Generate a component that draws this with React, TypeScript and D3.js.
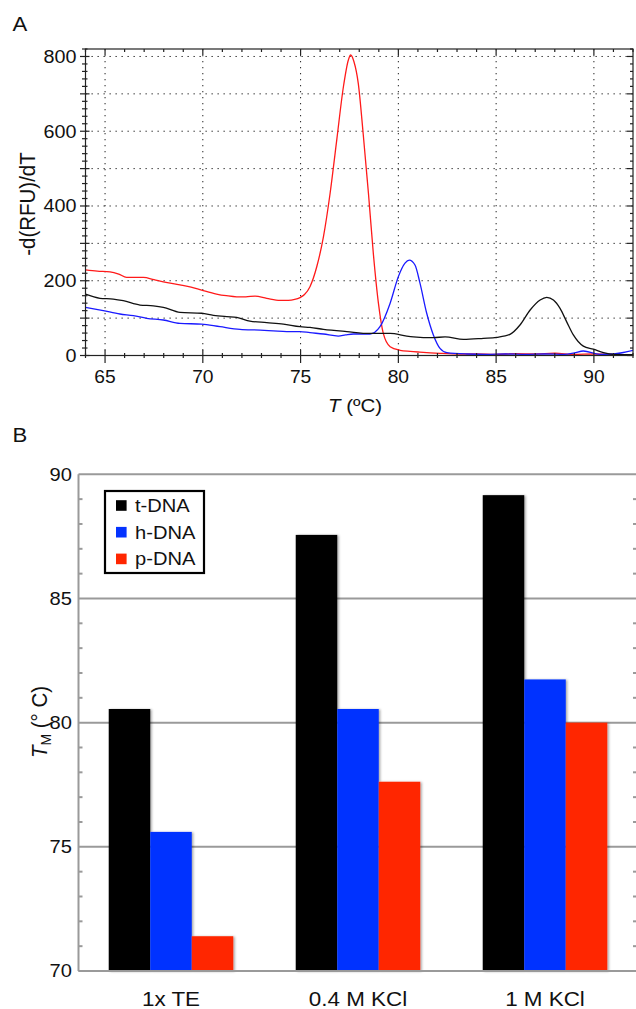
import React from "react";
import * as d3 from "d3";

// ---------- Panel A data ----------
const redT = [64, 64.6, 65.25, 65.7, 66.1, 66.96, 67.5, 67.98, 68.83, 69.4, 69.94, 70.7, 71.2, 71.73, 72.2, 72.67, 73.27, 73.95, 74.37, 74.7, 74.97, 75.2, 75.48, 75.83, 76.17, 76.51, 76.85, 77.19, 77.44, 77.56, 77.73, 77.95, 78.2, 78.47, 78.72, 78.98, 79.23, 79.58, 80.09, 80.6, 81.1, 82.13, 83.16, 84, 85, 86, 87, 88, 89, 90, 91, 92];
const redV = [229, 226, 224, 218, 209, 209, 203, 197, 189, 183, 175, 164.5, 160, 157, 157, 159, 153, 147.6, 147.6, 150, 155, 163, 184, 238, 318, 434, 577, 719, 790, 804, 786, 728, 594, 434, 273, 140, 59, 23.6, 14, 11, 9, 5.8, 4, 4, 3, 5, 4, 6, 3, 4, 3, 2];

const blueT = [64, 64.91, 65.76, 66.45, 67.13, 67.98, 68.83, 69.94, 70.88, 71.9, 72.93, 73.6, 74.29, 74.97, 75.48, 76.17, 76.93, 77.3, 77.7, 78.55, 79.06, 79.58, 80.0, 80.34, 80.56, 80.85, 81.1, 81.45, 81.79, 82.13, 82.48, 83.5, 84.5, 85.5, 86.5, 87.5, 88.5, 89, 89.46, 90.3, 91, 91.5, 92];
const blueV = [129, 120, 111, 106.5, 99.5, 95, 86, 84, 77, 70, 68, 66, 64, 64, 61, 57.5, 52, 55, 57.5, 57.5, 77, 140, 211, 247, 255, 242, 195, 113, 55, 19, 7.6, 4, 3, 4, 3, 4, 3, 7, 12, 3, 4, 8, 14];

const blackT = [64, 64.74, 65.42, 65.93, 66.79, 67.47, 67.98, 68.83, 69.94, 70.54, 71.22, 71.73, 72.41, 73.27, 74.12, 74.97, 75.48, 76.17, 77.36, 78.55, 79.58, 80.43, 80.77, 81.79, 82.39, 83.33, 84.35, 85.03, 85.71, 86.22, 86.74, 87.25, 87.59, 87.93, 88.27, 88.61, 88.95, 89.46, 89.97, 90.49, 91, 92];
const blackV = [164, 153, 151, 146.7, 135, 133, 129, 115.5, 113, 107.5, 104, 102, 92, 88, 84, 77, 75, 70, 64, 59, 59, 52, 50, 47.6, 50, 43, 46, 48.6, 56.6, 81.6, 121.7, 148.5, 155.6, 148.5, 126, 90, 55, 25, 17, 7.6, 3, 2];

const xTickLabelsA = [65, 70, 75, 80, 85, 90];
const yTickLabelsA = [0, 200, 400, 600, 800];

// ---------- Panel B data ----------
const categories = ["1x TE", "0.4 M KCl", "1 M KCl"];
const seriesNames = ["t-DNA", "h-DNA", "p-DNA"];
const tDNA = [80.55, 87.56, 89.16];
const hDNA = [75.6, 80.55, 81.74];
const pDNA = [71.4, 77.62, 80.0];
const yTickLabelsB = [70, 75, 80, 85, 90];

const FONT = "'Liberation Sans', Arial, Helvetica, sans-serif";
const SX = 1.13; // horizontal stretch of the original figure's lettering

function ST({ x, y, anchor = "start", size, sx = SX, children, dy }: any) {
  return (
    <g transform={`translate(${x},${y}) scale(${sx},1)`}>
      <text x={0} y={0} dy={dy} textAnchor={anchor} fontSize={size} fill="#111">
        {children}
      </text>
    </g>
  );
}

export default function App() {
  // Panel A scales
  const xA = d3.scaleLinear().domain([64, 92]).range([85.5, 633]);
  const yA = d3.scaleLinear().domain([0, 820]).range([355.5, 49]);
  const line = d3
    .line<[number, number]>()
    .x((d) => xA(d[0]))
    .y((d) => yA(d[1]))
    .curve(d3.curveMonotoneX);
  const series = [
    { t: redT, v: redV, color: "#ff1a1a" },
    { t: blueT, v: blueV, color: "#1a1aff" },
    { t: blackT, v: blackV, color: "#111" },
  ];

  const xMinor = d3.range(64, 93, 1);
  const yMinor = d3.range(0, 821, 20);
  const xGrid = xTickLabelsA;
  const yGrid = d3.range(100, 801, 100);

  // Panel B scales
  const yB = d3.scaleLinear().domain([70, 90]).range([971, 474.3]);
  const xB = d3
    .scaleBand<string>()
    .domain(categories)
    .range([77.5, 638.5])
    .paddingInner(0.334)
    .paddingOuter(0.167);
  const xSub = d3
    .scaleBand<string>()
    .domain(seriesNames)
    .range([0, xB.bandwidth()]);
  const colors = ["#000000", "#0433ff", "#ff2600"];
  const values = [tDNA, hDNA, pDNA];
  const yMinorB = d3.range(70, 91, 1).filter((v) => v % 5 !== 0);

  const plotLeftB = 78.5;
  const plotRightB = 637;

  return (
    <svg
      width={636}
      height={1009}
      style={{ position: "absolute", left: 0, top: 0, background: "#fff" }}
      fontFamily={FONT}
    >
      <defs>
        <filter id="shadow" x="-10%" y="-10%" width="130%" height="130%">
          <feDropShadow dx="1.5" dy="0.5" stdDeviation="0.8" floodColor="#000" floodOpacity="0.35" />
        </filter>
        <clipPath id="clipA">
          <rect x={xA(64)} y={yA(820)} width={xA(92) - xA(64)} height={yA(0) - yA(820)} />
        </clipPath>
      </defs>
      <rect x={0} y={0} width={636} height={1009} fill="#fff" />

      {/* ================= Panel A ================= */}
      <ST x={12.5} y={30.5} size={20.5} sx={1.08}>A</ST>

      {/* grid */}
      <g stroke="#222" strokeWidth={1} strokeDasharray="1.3,4.7">
        {xGrid.map((t) => (
          <line key={"gx" + t} x1={xA(t)} x2={xA(t)} y1={yA(820)} y2={yA(0)} />
        ))}
        {yGrid.map((v) => (
          <line key={"gy" + v} x1={xA(64)} x2={xA(92)} y1={yA(v)} y2={yA(v)} />
        ))}
      </g>

      {/* curves */}
      <g clipPath="url(#clipA)" fill="none">
        {series.map((s, i) => (
          <path
            key={i}
            d={line(s.t.map((t, j) => [t, s.v[j]] as [number, number])) || ""}
            stroke={s.color}
            strokeWidth={1.3}
          />
        ))}
      </g>

      {/* frame */}
      <rect
        x={xA(64)}
        y={yA(820)}
        width={xA(92) - xA(64)}
        height={yA(0) - yA(820)}
        fill="none"
        stroke="#222"
        strokeWidth={1.2}
      />

      {/* ticks */}
      <g stroke="#222" strokeWidth={1.2}>
        {xMinor.map((t) => {
          const major = t % 5 === 0;
          return (
            <g key={"xt" + t}>
              <line x1={xA(t)} x2={xA(t)} y1={yA(0) - (major ? 5.5 : 2.5)} y2={yA(0) + (major ? 7.5 : 2.5)} />
              <line x1={xA(t)} x2={xA(t)} y1={yA(820)} y2={yA(820) + (major ? 6 : 3)} />
            </g>
          );
        })}
        {yMinor.map((v) => {
          const major = v % 100 === 0;
          return (
            <g key={"yt" + v}>
              <line x1={xA(64) - (major ? 5.5 : 3.5)} x2={xA(64) + (major ? 4 : 2)} y1={yA(v)} y2={yA(v)} />
              <line x1={xA(92) - (major ? 6 : 3)} x2={xA(92)} y1={yA(v)} y2={yA(v)} />
            </g>
          );
        })}
      </g>

      {/* tick labels */}
      {yTickLabelsA.map((v) => (
        <ST key={"yl" + v} x={76.5} y={yA(v)} dy="0.36em" anchor="end" size={17.5}>
          {v}
        </ST>
      ))}
      {xTickLabelsA.map((t) => (
        <ST key={"xl" + t} x={xA(t)} y={383} anchor="middle" size={17.5} sx={1.1}>
          {t}
        </ST>
      ))}

      {/* axis titles */}
      <g transform={`translate(34.5,204) rotate(-90) scale(1,1.1)`}>
        <text textAnchor="middle" fontSize={20.5} fill="#111">
          -d(RFU)/dT
        </text>
      </g>
      <ST x={355} y={412} anchor="middle" size={19} sx={1.08}>
        <tspan fontStyle="italic">T</tspan> (ºC)
      </ST>

      {/* ================= Panel B ================= */}
      <ST x={12.5} y={441.5} size={20.5} sx={1.08}>B</ST>

      {/* gridlines */}
      <g stroke="#9a9a9a" strokeWidth={2}>
        {yTickLabelsB.map((v) => (
          <line key={"gb" + v} x1={plotLeftB} x2={636} y1={yB(v)} y2={yB(v)} />
        ))}
        <line x1={plotLeftB} x2={plotLeftB} y1={yB(90)} y2={yB(70)} />
        {yMinorB.map((v) => (
          <g key={"mb" + v}>
            <line x1={plotLeftB} x2={plotLeftB + 4} y1={yB(v)} y2={yB(v)} />
            <line x1={633} x2={plotRightB} y1={yB(v)} y2={yB(v)} />
          </g>
        ))}
      </g>

      {/* bars */}
      <g filter="url(#shadow)">
        {categories.map((c, ci) => (
          <g key={c} transform={`translate(${xB(c)},0)`}>
            {seriesNames.map((s, si) => (
              <rect
                key={s}
                x={xSub(s)}
                y={yB(values[si][ci])}
                width={xSub.bandwidth()}
                height={yB(70) - yB(values[si][ci])}
                fill={colors[si]}
              />
            ))}
          </g>
        ))}
      </g>

      {/* bottom axis line redraw */}
      <line x1={plotLeftB} x2={636} y1={yB(70)} y2={yB(70)} stroke="#9a9a9a" strokeWidth={2} />

      {/* tick labels */}
      {yTickLabelsB.map((v) => (
        <ST key={"ylb" + v} x={72} y={yB(v)} dy="0.36em" anchor="end" size={17.5} sx={1.15}>
          {v}
        </ST>
      ))}
      {categories.map((c) => (
        <ST key={"cl" + c} x={(xB(c) as number) + xB.bandwidth() / 2} y={1005.5} anchor="middle" size={19.5} sx={1.15}>
          {c}
        </ST>
      ))}

      {/* y title */}
      <g transform={`translate(47,722) rotate(-90) scale(1,1.1)`}>
        <text textAnchor="middle" fontSize={20.5} fill="#111">
          <tspan fontStyle="italic">T</tspan>
          <tspan fontSize={14} dy="4">M</tspan>
          <tspan dy="-4"> (° C)</tspan>
        </text>
      </g>

      {/* legend */}
      <rect x={105} y={491} width={99} height={82} fill="#fff" stroke="#000" strokeWidth={2.2} />
      {seriesNames.map((s, i) => {
        const cy = 505.5 + i * 26.7;
        return (
          <g key={"lg" + s}>
            <rect x={116} y={cy - 5.3} width={10.6} height={10.6} fill={colors[i]} />
            <ST x={135} y={cy} dy="0.36em" size={17.5} sx={1.15}>
              {s}
            </ST>
          </g>
        );
      })}
    </svg>
  );
}
